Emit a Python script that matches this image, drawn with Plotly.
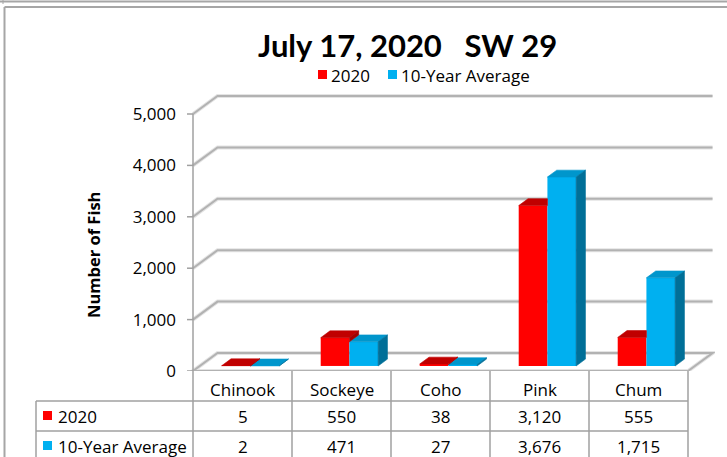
import plotly.graph_objects as go

# ---------------- data ----------------
categories = ["Chinook", "Sockeye", "Coho", "Pink", "Chum"]
series_names = ["2020", "10-Year Average"]
values_2020 = [5, 550, 38, 3120, 555]
values_avg = [2, 471, 27, 3676, 1715]
y_tick_values = [0, 1000, 2000, 3000, 4000, 5000]
title_text = "July 17, 2020\u00a0\u00a0\u00a0SW 29"
y_axis_title = "Number of Fish"

# ---------------- styles ----------------
RED, RED_TOP, RED_SIDE = "#FF0000", "#C00000", "#A30000"
BLUE, BLUE_TOP, BLUE_SIDE = "#00B0F0", "#0096CC", "#006F98"
GRID, GRID_SOFT, LINE = "#B2B2B2", "#E4E4E4", "#A0A0A0"
TITLE_FONT = "Lato"
FONT = "Open Sans"
FS = 17

W, H = 727, 457
PL, PR, PT, PB = 185, 715, 90, 371          # plot area (pixels)
PX_PER_CAT = 99.0
PX_PER_UNIT_Y = 0.0514
X_ORIGIN_PX = 193
XR = [(PL - X_ORIGIN_PX) / PX_PER_CAT, (PR - X_ORIGIN_PX) / PX_PER_CAT]
YR = [0, (PB - PT) / PX_PER_UNIT_Y]


def fx(px):
    return (px - PL) / (PR - PL)


def fy(py):
    return (PB - py) / (PB - PT)


def cx(px):  # pixel -> x data
    return (px - X_ORIGIN_PX) / PX_PER_CAT


n = len(categories)
DEPTH_X = 24.5 / PX_PER_CAT
DEPTH_Y = 18 / PX_PER_UNIT_Y
FRONT = 0.28
BAR_DEPTH = 0.38
BAR_W = 0.29
BAR_START = 0.29
base = FRONT * DEPTH_Y
bdx = BAR_DEPTH * DEPTH_X
bdy = BAR_DEPTH * DEPTH_Y

red_x0 = [i + BAR_START for i in range(n)]
blue_x0 = [x + BAR_W for x in red_x0]


def poly_trace(polys, color):
    xs, ys = [], []
    for p in polys:
        for a, b in p:
            xs.append(a)
            ys.append(b)
        xs.append(p[0][0])
        ys.append(p[0][1])
        xs.append(None)
        ys.append(None)
    return go.Scatter(x=xs, y=ys, mode="lines", fill="toself", fillcolor=color,
                      line=dict(width=0.6, color=color), hoverinfo="skip",
                      showlegend=False)


fig = go.Figure()

# front faces
fig.add_trace(go.Bar(x=[x + BAR_W / 2 for x in red_x0], y=values_2020, base=base,
                     width=BAR_W, marker=dict(color=RED, line=dict(width=0)),
                     name=series_names[0], showlegend=False))
fig.add_trace(go.Bar(x=[x + BAR_W / 2 for x in blue_x0], y=values_avg, base=base,
                     width=BAR_W, marker=dict(color=BLUE, line=dict(width=0)),
                     name=series_names[1], showlegend=False))

blue_tops, blue_sides, red_tops, red_sides = [], [], [], []
for i in range(n):
    x0 = blue_x0[i]
    x1 = x0 + BAR_W
    tb = base + values_avg[i]
    blue_tops.append([(x0, tb), (x1, tb), (x1 + bdx, tb + bdy), (x0 + bdx, tb + bdy)])
    blue_sides.append([(x1, base), (x1, tb), (x1 + bdx, tb + bdy), (x1 + bdx, base + bdy)])
    r0 = red_x0[i]
    r1 = r0 + BAR_W
    tr = base + values_2020[i]
    if tb > tr:
        red_tops.append([(r0, tr), (r1, tr), (r1, tr + bdy), (r0 + bdx, tr + bdy)])
    else:
        red_tops.append([(r0, tr), (r1, tr), (r1 + bdx, tr + bdy), (r0 + bdx, tr + bdy)])
        red_sides.append([(r1, tb), (r1 + bdx, tb + bdy), (r1 + bdx, tr + bdy), (r1, tr)])

fig.add_trace(poly_trace(blue_tops, BLUE_TOP))
fig.add_trace(poly_trace(blue_sides, BLUE_SIDE))
fig.add_trace(poly_trace(red_tops, RED_TOP))
if red_sides:
    fig.add_trace(poly_trace(red_sides, RED_SIDE))

shapes = []

# floor
floor = f"M0,0L{n},0L{n + DEPTH_X},{DEPTH_Y}L{DEPTH_X},{DEPTH_Y}Z"
shapes.append(dict(type="path", path=floor, xref="x", yref="y", layer="below",
                   fillcolor="white", line=dict(color=GRID_SOFT, width=4)))
shapes.append(dict(type="path", path=floor, xref="x", yref="y", layer="below",
                   line=dict(color=GRID, width=2)))
# back-wall gridlines
for v in y_tick_values[1:]:
    p = f"M0,{v}L{DEPTH_X},{v + DEPTH_Y}L{n + DEPTH_X},{v + DEPTH_Y}"
    shapes.append(dict(type="path", path=p, xref="x", yref="y", layer="below",
                       line=dict(color=GRID_SOFT, width=4)))
    shapes.append(dict(type="path", path=p, xref="x", yref="y", layer="below",
                       line=dict(color=GRID, width=2)))
# axis line and ticks
shapes.append(dict(type="line", xref="x", yref="y", x0=0, x1=0, y0=0,
                   y1=y_tick_values[-1], line=dict(color=LINE, width=1.5)))
for v in y_tick_values:
    shapes.append(dict(type="line", xref="x", yref="y", x0=cx(187), x1=0, y0=v, y1=v,
                       line=dict(color=LINE, width=1.5)))

# data table lines
for i in range(n + 1):
    shapes.append(dict(type="line", xref="paper", yref="paper",
                       x0=fx(X_ORIGIN_PX + i * PX_PER_CAT), x1=fx(X_ORIGIN_PX + i * PX_PER_CAT),
                       y0=fy(371), y1=fy(460), line=dict(color=LINE, width=1.5)))
for yy in (401, 431):
    shapes.append(dict(type="line", xref="paper", yref="paper", x0=fx(36),
                       x1=fx(X_ORIGIN_PX + n * PX_PER_CAT), y0=fy(yy), y1=fy(yy),
                       line=dict(color=LINE, width=1.5)))
shapes.append(dict(type="line", xref="paper", yref="paper", x0=fx(36), x1=fx(36),
                   y0=fy(401), y1=fy(460), line=dict(color=LINE, width=1.5)))

# outer frames
shapes.append(dict(type="line", xref="paper", yref="paper", x0=fx(0), x1=fx(W),
                   y0=fy(1.5), y1=fy(1.5), line=dict(color="#A6A6A6", width=2)))
shapes.append(dict(type="line", xref="paper", yref="paper", x0=fx(3), x1=fx(3),
                   y0=fy(0), y1=fy(4), line=dict(color="#A6A6A6", width=1)))
shapes.append(dict(type="line", xref="paper", yref="paper", x0=fx(4.5), x1=fx(W),
                   y0=fy(7), y1=fy(7), line=dict(color="#A6A6A6", width=2)))
shapes.append(dict(type="line", xref="paper", yref="paper", x0=fx(4.5), x1=fx(4.5),
                   y0=fy(7), y1=fy(H), line=dict(color="#A6A6A6", width=2)))

# legend keys (top) and table keys
for (lx, ly, c) in [(318, 70, RED), (388, 70, BLUE), (43, 411, RED), (43, 441, BLUE)]:
    shapes.append(dict(type="rect", xref="paper", yref="paper", x0=fx(lx), x1=fx(lx + 9),
                       y0=fy(ly), y1=fy(ly + 9), fillcolor=c, line=dict(width=0)))

annotations = []
annotations.append(dict(text=f"<b>{title_text}</b>", xref="paper", yref="paper",
                        x=fx(407), y=fy(45), showarrow=False, xanchor="center",
                        yanchor="middle", font=dict(family=TITLE_FONT, size=31, color="black")))
for (tx, name) in [(329, series_names[0]), (399, series_names[1])]:
    annotations.append(dict(text=name, xref="paper", yref="paper", x=fx(tx), y=fy(75),
                            showarrow=False, xanchor="left", yanchor="middle",
                            font=dict(family=FONT, size=FS, color="black")))
annotations.append(dict(text=f"<b>{y_axis_title}</b>", xref="paper", yref="paper",
                        x=fx(93), y=fy(255), showarrow=False, textangle=-90,
                        xanchor="center", yanchor="middle",
                        font=dict(family=FONT, size=16.5, color="black")))
for i, c in enumerate(categories):
    annotations.append(dict(text=c, xref="x", yref="paper", x=i + 0.5, y=fy(389),
                            showarrow=False, yanchor="middle",
                            font=dict(family=FONT, size=FS, color="black")))
    for vals, yy in ((values_2020, 416), (values_avg, 446)):
        annotations.append(dict(text=f"{vals[i]:,}", xref="x", yref="paper", x=i + 0.5,
                                y=fy(yy), showarrow=False, yanchor="middle",
                                font=dict(family=FONT, size=FS, color="black")))
for name, yy in ((series_names[0], 416), (series_names[1], 446)):
    annotations.append(dict(text=name, xref="paper", yref="paper", x=fx(56), y=fy(yy),
                            showarrow=False, xanchor="left", yanchor="middle",
                            font=dict(family=FONT, size=FS, color="black")))

fig.update_layout(
    width=W, height=H,
    margin=dict(l=PL, r=W - PR, t=PT, b=H - PB, pad=0),
    paper_bgcolor="white", plot_bgcolor="white",
    barmode="overlay", showlegend=False,
    xaxis=dict(range=XR, showgrid=False, zeroline=False, showticklabels=False,
               ticks="", showline=False, fixedrange=True),
    yaxis=dict(range=YR, showgrid=False, zeroline=False, showline=False,
               tickvals=y_tick_values, tickformat=",", ticks="",
               ticklabelstandoff=8,
               tickfont=dict(family=FONT, size=FS, color="black"), fixedrange=True),
    shapes=shapes, annotations=annotations,
)

fig.write_html("out.html", config={"displayModeBar": False},
               post_script="document.body.style.margin='0';"
                           "document.body.style.overflow='hidden';")
